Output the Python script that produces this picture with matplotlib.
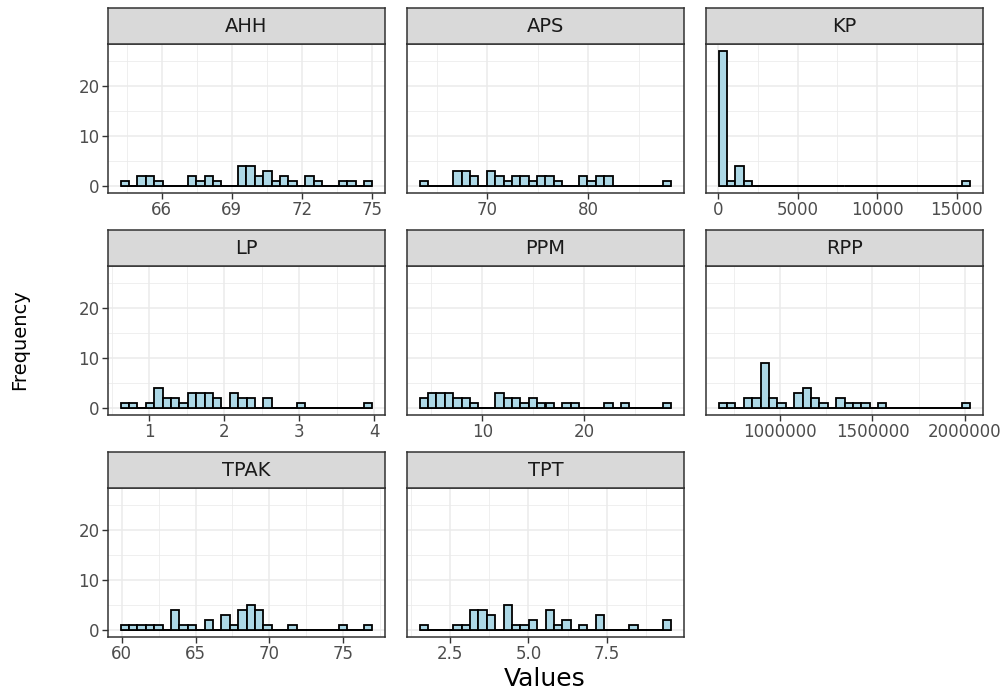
import matplotlib
matplotlib.use("Agg")
import matplotlib.pyplot as plt
import numpy as np

plt.rcParams["font.family"] = ["DejaVu Sans"]

# Variables shown in the facets (34 provinces each), 30 bins per histogram
names = ["AHH", "APS", "KP", "LP", "PPM", "RPP", "TPAK", "TPT"]

# Smallest and largest observed value of each variable (bin centres sit on these)
x_min = [64.42, 63.71, 282.0, 0.673, 4.26, 690745.0, 60.20, 1.66]
x_max = [74.85, 87.81, 15600.0, 3.918, 28.13, 2006561.0, 76.70, 9.43]

# Bin counts (30 bins per variable)
counts_ahh = [1, 0, 2, 2, 1, 0, 0, 0, 2, 1, 2, 1, 0, 0, 4, 4, 2, 3, 1, 2, 1, 0, 2, 1, 0, 0, 1, 1, 0, 1]
counts_aps = [1, 0, 0, 0, 3, 3, 2, 0, 3, 2, 1, 2, 2, 1, 2, 2, 1, 0, 0, 2, 1, 2, 2, 0, 0, 0, 0, 0, 0, 1]
counts_kp = [27, 1, 4, 1, 0, 0, 0, 0, 0, 0, 0, 0, 0, 0, 0, 0, 0, 0, 0, 0, 0, 0, 0, 0, 0, 0, 0, 0, 0, 1]
counts_lp = [1, 1, 0, 1, 4, 2, 2, 1, 3, 3, 3, 2, 0, 3, 2, 2, 0, 2, 0, 0, 0, 1, 0, 0, 0, 0, 0, 0, 0, 1]
counts_ppm = [2, 3, 3, 3, 2, 2, 1, 0, 0, 3, 2, 2, 1, 2, 1, 1, 0, 1, 1, 0, 0, 0, 1, 0, 1, 0, 0, 0, 0, 1]
counts_rpp = [1, 1, 0, 2, 2, 9, 2, 1, 0, 3, 4, 2, 1, 0, 2, 1, 1, 1, 0, 1, 0, 0, 0, 0, 0, 0, 0, 0, 0, 1]
counts_tpak = [1, 1, 1, 1, 1, 0, 4, 1, 1, 0, 2, 0, 3, 1, 4, 5, 4, 1, 0, 0, 1, 0, 0, 0, 0, 0, 1, 0, 0, 1]
counts_tpt = [1, 0, 0, 0, 1, 1, 4, 4, 3, 0, 5, 1, 1, 2, 0, 4, 1, 2, 0, 1, 0, 3, 0, 0, 0, 1, 0, 0, 0, 2]
counts = [counts_ahh, counts_aps, counts_kp, counts_lp,
          counts_ppm, counts_rpp, counts_tpak, counts_tpt]

# Axis breaks and their labels
x_breaks = [[66, 69, 72, 75], [70, 80], [0, 5000, 10000, 15000], [1, 2, 3, 4],
            [10, 20], [1000000, 1500000, 2000000], [60, 65, 70, 75], [2.5, 5.0, 7.5]]
x_labels = [["66", "69", "72", "75"], ["70", "80"], ["0", "5000", "10000", "15000"],
            ["1", "2", "3", "4"], ["10", "20"], ["1000000", "1500000", "2000000"],
            ["60", "65", "70", "75"], ["2.5", "5.0", "7.5"]]
y_breaks = [0, 10, 20]

W, H = 1000, 690
fig = plt.figure(figsize=(W / 100, H / 100), dpi=100)
fig.patch.set_facecolor("white")

col_left = [108, 407, 706]
panel_w = 277
row_top = [44, 266, 488]
panel_h = 149
strip_h = 36

fill = "#add8e6"
border = "#333333"
grid_col = "#ebebeb"
tick_col = "#4d4d4d"

ymax_count = max(max(c) for c in counts)
ylo, yhi = -0.05 * ymax_count, ymax_count * 1.05


def fig_rect(x, y, w, h):
    return [x / W, 1 - (y + h) / H, w / W, h / H]


for i, name in enumerate(names):
    r, c = divmod(i, 3)
    ax = fig.add_axes(fig_rect(col_left[c], row_top[r], panel_w, panel_h))
    mn, mx = x_min[i], x_max[i]
    bw = (mx - mn) / 29
    lefts = mn - bw / 2 + bw * np.arange(30)
    # empty bins still show their outline along the zero line
    ax.plot([lefts[0], lefts[-1] + bw], [0, 0], color="black",
            linewidth=1.3, zorder=2.9, solid_capstyle="butt")
    ax.bar(lefts, counts[i], width=bw, align="edge", color=fill,
           edgecolor="black", linewidth=1.3, zorder=3)
    span = 30 * bw
    lo = mn - bw / 2 - 0.05 * span
    hi = mx + bw / 2 + 0.05 * span
    ax.set_xlim(lo, hi)
    ax.set_ylim(ylo, yhi)

    br = x_breaks[i]
    step = br[1] - br[0]
    minor = [b - step / 2 for b in br] + [br[-1] + step / 2]
    minor = [m for m in minor if lo < m < hi]
    ax.set_xticks(br)
    ax.set_xticklabels(x_labels[i])
    ax.set_xticks(minor, minor=True)
    ax.set_yticks(y_breaks)
    ax.set_yticks([5, 15, 25], minor=True)
    ax.grid(which="major", color=grid_col, linewidth=1.1, zorder=0)
    ax.grid(which="minor", color=grid_col, linewidth=0.55, zorder=0)
    ax.set_axisbelow(True)
    ax.tick_params(which="major", length=4, width=1, color=border,
                   labelcolor=tick_col, labelsize=12, pad=2)
    ax.tick_params(which="minor", length=0)
    if c != 0:
        ax.tick_params(axis="y", which="major", length=0, labelleft=False)
    for s in ax.spines.values():
        s.set_color(border)
        s.set_linewidth(1.1)

    sx = fig.add_axes(fig_rect(col_left[c], row_top[r] - strip_h, panel_w, strip_h))
    sx.set_facecolor("#d9d9d9")
    sx.set_xticks([])
    sx.set_yticks([])
    for s in sx.spines.values():
        s.set_color(border)
        s.set_linewidth(1.1)
    sx.text(0.5, 0.5, name, ha="center", va="center", fontsize=14,
            color="#1a1a1a", transform=sx.transAxes)

fig.text(20 / W, 1 - 340 / H, "Frequency", rotation=90, ha="center",
         va="center", fontsize=14, color="black")
fig.text(545 / W, 1 - 679 / H, "Values", ha="center", va="center",
         fontsize=18, color="black")

fig.savefig("out.png", dpi=100)
